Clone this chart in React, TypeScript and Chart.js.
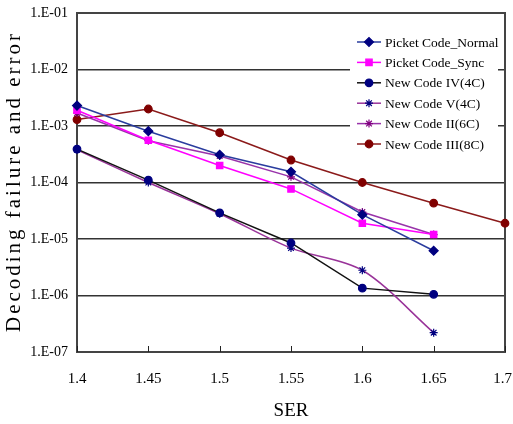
import React, { useEffect, useRef } from 'react';
import { Chart, registerables } from 'chart.js';
import { drawPoint } from 'chart.js/helpers';

Chart.register(...registerables);

const FONT = "'Liberation Serif', 'Times New Roman', serif";

const serLabels = ['1.4', '1.45', '1.5', '1.55', '1.6', '1.65', '1.7'];

const picketNormal = [2.3e-3, 8.1e-4, 3.1e-4, 1.55e-4, 2.7e-5, 6.2e-6, null];
const picketSync = [1.9e-3, 5.6e-4, 2.0e-4, 7.7e-5, 1.9e-5, 1.2e-5, null];
const newCode4 = [3.9e-4, 1.1e-4, 2.9e-5, 8.5e-6, 1.35e-6, 1.05e-6, null];
const newCode5 = [3.8e-4, 1.0e-4, 2.8e-5, 6.9e-6, 2.8e-6, 2.2e-7, null];
const newCode2 = [1.7e-3, 5.5e-4, 2.95e-4, 1.26e-4, 3.0e-5, 1.2e-5, null];
const newCode3 = [1.3e-3, 2.0e-3, 7.6e-4, 2.5e-4, 1.0e-4, 4.3e-5, 1.9e-5];

const seriesNames = [
  'Picket Code_Normal',
  'Picket Code_Sync',
  'New Code IV(4C)',
  'New Code V(4C)',
  'New Code II(6C)',
  'New Code III(8C)',
];

const yTickValues = [1e-1, 1e-2, 1e-3, 1e-4, 1e-5, 1e-6, 1e-7];
const yTitle = 'Decoding failure and error';
const xTitle = 'SER';

function fmtExp(v: number): string {
  const e = Math.round(Math.log10(v));
  return '1.E-' + String(-e).padStart(2, '0');
}

const decorPlugin = {
  id: 'decor',
  beforeDatasetsDraw(chart: any) {
    const { ctx, chartArea: a, scales } = chart;
    ctx.save();
    // frame
    ctx.strokeStyle = '#444444';
    ctx.lineWidth = 2;
    ctx.strokeRect(a.left, a.top, a.right - a.left, a.bottom - a.top);
    // inward ticks on x axis
    ctx.strokeStyle = '#222222';
    ctx.lineWidth = 1;
    const xs = scales.x;
    serLabels.forEach((_, i) => {
      const px = Math.round(xs.getPixelForValue(i)) + 0.5;
      ctx.beginPath();
      ctx.moveTo(px, a.bottom);
      ctx.lineTo(px, a.bottom - 6);
      ctx.stroke();
    });
    // legend
    const bx = 350, by = 28, bw = 148, bh = 130;
    ctx.fillStyle = '#ffffff';
    ctx.fillRect(bx, by, bw, bh);
    ctx.font = `13.5px ${FONT}`;
    ctx.textBaseline = 'middle';
    ctx.textAlign = 'left';
    chart.data.datasets.forEach((ds: any, i: number) => {
      const y = 42 + i * 20.4;
      ctx.strokeStyle = ds.borderColor;
      ctx.lineWidth = ds.borderWidth;
      ctx.beginPath();
      ctx.moveTo(357, y);
      ctx.lineTo(381, y);
      ctx.stroke();
      ctx.fillStyle = ds.pointBackgroundColor;
      ctx.strokeStyle = ds.pointBorderColor;
      ctx.lineWidth = ds.pointBorderWidth;
      drawPoint(ctx, { pointStyle: ds.pointStyle, radius: ds.pointRadius, rotation: 0, borderWidth: ds.pointBorderWidth }, 369, y);
      ctx.fillStyle = '#000000';
      ctx.fillText(ds.label, 385, y + 1);
    });
    ctx.restore();
  },
  afterDraw(chart: any) {
    const { ctx } = chart;
    ctx.save();
    ctx.font = `21px ${FONT}`;
    ctx.fillStyle = '#000000';
    const w0 = ctx.measureText(yTitle).width;
    const total = 298;
    const sp = Math.max(0, (total - w0) / (yTitle.length - 1));
    (ctx as any).letterSpacing = sp.toFixed(2) + 'px';
    ctx.translate(20, 332);
    ctx.rotate(-Math.PI / 2);
    ctx.textAlign = 'left';
    ctx.textBaseline = 'alphabetic';
    ctx.fillText(yTitle, 0, 0);
    ctx.restore();
  },
};

function makeDataset(label: string, data: (number | null)[], line: string, mFill: string, mBorder: string, style: string, radius: number, tension = 0) {
  return {
    label,
    data,
    borderColor: line,
    backgroundColor: line,
    borderWidth: 1.5,
    pointStyle: style,
    pointRadius: radius,
    pointHoverRadius: radius,
    pointBackgroundColor: mFill,
    pointBorderColor: mBorder,
    pointBorderWidth: 1.2,
    tension,
    clip: false as any,
    spanGaps: false,
  };
}

export default function App() {
  const ref = useRef<HTMLCanvasElement | null>(null);
  useEffect(() => {
    if (!ref.current) return;
    Chart.defaults.color = '#000000';
    const chart = new Chart(ref.current, {
      type: 'line',
      data: {
        labels: serLabels,
        datasets: [
          makeDataset(seriesNames[0], picketNormal, '#2a3c9e', '#000080', '#000080', 'rectRot', 4.5),
          makeDataset(seriesNames[1], picketSync, '#ff00ff', '#ff00ff', '#ff00ff', 'rect', 4.5),
          makeDataset(seriesNames[2], newCode4, '#111111', '#000080', '#000080', 'circle', 3.8),
          makeDataset(seriesNames[3], newCode5, '#993399', '#000080', '#000080', 'star', 4, 0.3),
          makeDataset(seriesNames[4], newCode2, '#9933aa', '#800080', '#800080', 'star', 4),
          makeDataset(seriesNames[5], newCode3, '#8b1a1a', '#800000', '#800000', 'circle', 3.8),
        ] as any,
      },
      options: {
        responsive: false,
        animation: false,
        devicePixelRatio: 1,
        layout: { padding: { top: 13, right: 8, left: 0, bottom: 0 } },
        plugins: {
          legend: { display: false },
          tooltip: { enabled: false },
        },
        scales: {
          x: {
            type: 'category',
            offset: false,
            grid: { display: false, drawTicks: false },
            border: { display: false },
            ticks: {
              font: { family: FONT, size: 15 },
              color: '#000000',
              padding: 18,
              maxRotation: 0,
              autoSkip: false,
            },
            title: {
              display: true,
              text: xTitle,
              font: { family: FONT, size: 19 },
              color: '#000000',
              padding: { top: 0, bottom: 2 },
            },
            afterFit(scale: any) {
              scale.height = 72;
              scale.paddingLeft = 0;
              scale.paddingRight = 0;
            },
            afterUpdate(scale: any) {
              if (scale.__wrapped) return;
              scale.__wrapped = true;
              const orig = scale._computeLabelItems.bind(scale);
              scale._computeLabelItems = (ca: any) => {
                const items = orig(ca);
                const last = items[items.length - 1];
                if (last && last.options && last.options.translation) {
                  const [tx, ty] = last.options.translation;
                  const w = scale.ctx ? (() => { scale.ctx.save(); scale.ctx.font = `15px ${FONT}`; const m = scale.ctx.measureText(String(last.label)).width; scale.ctx.restore(); return m; })() : 19;
                  const maxRight = scale.chart.width - 1;
                  if (tx + w / 2 > maxRight) {
                    last.options.translation = [maxRight - w / 2, ty];
                  }
                }
                return items;
              };
            },
          },
          y: {
            type: 'logarithmic',
            min: 1e-7,
            max: 1e-1,
            grid: { color: '#333333', lineWidth: 1.5, drawTicks: false },
            border: { display: false },
            ticks: {
              font: { family: FONT, size: 14 },
              color: '#000000',
              padding: 9,
              callback: (v: any) => fmtExp(Number(v)),
            },
            afterBuildTicks(scale: any) {
              scale.ticks = yTickValues.map((v) => ({ value: v }));
            },
            afterFit(scale: any) {
              scale.width = 77;
              scale.paddingTop = 0;
              scale.paddingBottom = 0;
            },
          },
        },
      },
      plugins: [decorPlugin],
    });
    return () => chart.destroy();
  }, []);
  return (
    <div style={{ position: 'absolute', left: 0, top: 0, width: 513, height: 424, background: '#ffffff' }}>
      <canvas ref={ref} width={513} height={424} style={{ width: 513, height: 424, display: 'block' }} />
    </div>
  );
}
